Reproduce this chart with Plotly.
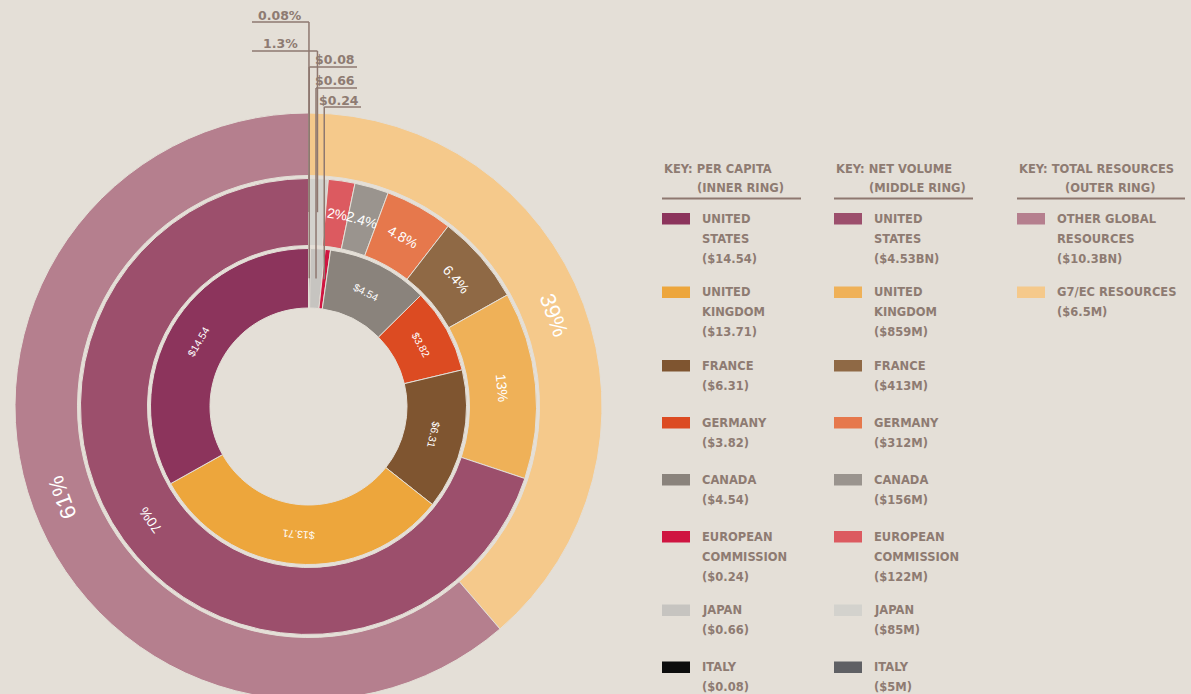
import math
import plotly.graph_objects as go

# ring order is clockwise from 12 o'clock
members = ['ITALY', 'JAPAN', 'EUROPEAN<br>COMMISSION', 'CANADA', 'GERMANY',
           'FRANCE', 'UNITED<br>KINGDOM', 'UNITED<br>STATES']
per_capita = [0.08, 0.66, 0.24, 4.54, 3.82, 6.31, 13.71, 14.54]
net_volume_m = [5, 85, 122, 156, 312, 413, 859, 4530]
net_volume_labels = ['$5M', '$85M', '$122M', '$156M', '$312M', '$413M', '$859M', '$4.53BN']
net_share_pct = ['0.08', '1.3', '2', '2.4', '4.8', '6.4', '13', '70']
resource_groups = ['G7/EC RESOURCES', 'OTHER GLOBAL<br>RESOURCES']
resources_bn = [6.5, 10.3]
resource_labels = ['$6.5M', '$10.3BN']
resource_share_pct = ['39', '61']

inner_colors = ['#0d0d0d', '#c6c4c0', '#cf1541', '#8a837c', '#dc4b22', '#7f5530', '#eda63c', '#8c345c']
middle_colors = ['#5f6064', '#d3d2cd', '#dc5a60', '#9a948e', '#e6784c', '#8f6945', '#efb158', '#9c4f6c']
outer_colors = ['#f5c98b', '#b57f8e']

BG = '#e4dfd7'
INK = '#8e7b72'
LINE = '#8e7870'
KEY_FONT = dict(family='DejaVu Sans', size=11.5, color=INK, weight='bold')
W, H = 1191, 712
CX, CY = 308.5, 406.5
INNER = (98.5, 158)
MIDDLE = (161, 228)
OUTER = (231, 293.5)


def px(x):
    return x / W


def py(y):
    return 1 - y / H


def ring(labels, values, colors, radii):
    r_in, r_out = radii
    return go.Pie(
        labels=labels, values=values, sort=False, direction='clockwise', rotation=0,
        hole=r_in / r_out, textinfo='none', hoverinfo='label+value', showlegend=False,
        marker=dict(colors=colors, line=dict(color=BG, width=1)),
        domain=dict(x=[px(CX - r_out), px(CX + r_out)], y=[py(CY + r_out), py(CY - r_out)]),
    )


def centroids(values):
    total, acc, out = sum(values), 0, []
    for v in values:
        out.append(360 * (acc + v / 2) / total)
        acc += v
    return out


def polar(angle, r):
    a = math.radians(angle)
    return CX + r * math.sin(a), CY - r * math.cos(a)


fig = go.Figure([
    ring(resource_groups, resources_bn, outer_colors, OUTER),
    ring(members, net_volume_m, middle_colors, MIDDLE),
    ring(members, per_capita, inner_colors, INNER),
])

annotations = []
shapes = []


def ring_labels(values, texts, radii, size, skip):
    r = sum(radii) / 2
    for i, (ang, t) in enumerate(zip(centroids(values), texts)):
        if i < skip:
            continue
        x, y = polar(ang, r)
        annotations.append(dict(
            x=px(x), y=py(y), xref='paper', yref='paper', text=t, showarrow=False,
            textangle=ang, xanchor='center', yanchor='middle',
            font=dict(family='Liberation Sans', size=size, color='white'),
        ))


ring_labels(per_capita, [f'${v:.2f}' for v in per_capita], INNER, 10.5, 3)
ring_labels(net_volume_m, [f'{p}%' for p in net_share_pct], MIDDLE, 14, 2)
ring_labels(resources_bn, [f'{p}%' for p in resource_share_pct], OUTER, 22, 0)

# call-outs for the slivers at 12 o'clock
mid_ang = centroids(net_volume_m)
in_ang = centroids(per_capita)
callouts = [
    (f'{net_share_pct[0]}%', mid_ang[0], MIDDLE, 15, 22, 'left', 280),
    (f'{net_share_pct[1]}%', mid_ang[1], MIDDLE, 43, 51, 'left', 280),
    (f'${per_capita[0]:.2f}', in_ang[0], INNER, 60, 67, 'right', 357),
    (f'${per_capita[1]:.2f}', in_ang[1], INNER, 80, 88, 'right', 357),
    (f'${per_capita[2]:.2f}', in_ang[2], INNER, 100, 107, 'right', 361),
]
for text, ang, radii, ty, uy, side, tx in callouts:
    lx, ly = polar(ang, sum(radii) / 2)
    if side == 'left':
        ux0, ux1 = 252, lx
        anchor = 'center'
    else:
        ux0, ux1 = lx, tx
        anchor = 'right'
    shapes.append(dict(type='line', xref='paper', yref='paper', x0=px(ux0), x1=px(ux1),
                       y0=py(uy), y1=py(uy), line=dict(color=LINE, width=1.5)))
    shapes.append(dict(type='line', xref='paper', yref='paper', x0=px(lx), x1=px(lx),
                       y0=py(uy), y1=py(ly), line=dict(color=LINE, width=1.5)))
    annotations.append(dict(x=px(tx), y=py(ty), xref='paper', yref='paper', text=text,
                            showarrow=False, xanchor=anchor, yanchor='middle',
                            font=dict(KEY_FONT, size=12.5)))

# keys
headers = [('KEY: PER CAPITA', '(INNER RING)', 33, 139),
           ('KEY: NET VOLUME', '(MIDDLE RING)', 33, 139),
           ('KEY: TOTAL RESOURCES', '(OUTER RING)', 46, 168)]
columns = [
    (662, list(zip(members, [f'(${v:.2f})' for v in per_capita], inner_colors))[::-1]),
    (834, list(zip(members, [f'({v})' for v in net_volume_labels], middle_colors))[::-1]),
    (1017, list(zip(resource_groups, [f'({v})' for v in resource_labels], outer_colors))[::-1]),
]


def key_text(x, y, text):
    annotations.append(dict(x=px(x), y=py(y), xref='paper', yref='paper', text=text,
                            showarrow=False, xanchor='left', yanchor='middle', font=KEY_FONT))


for (line1, line2, off, uw), (cx, entries) in zip(headers, columns):
    key_text(cx, 169, line1)
    key_text(cx + off, 188, line2)
    shapes.append(dict(type='line', xref='paper', yref='paper', x0=px(cx), x1=px(cx + uw),
                       y0=py(198.5), y1=py(198.5), line=dict(color=LINE, width=2)))
    y = 218.5
    for name, value, color in entries:
        shapes.append(dict(type='rect', xref='paper', yref='paper', x0=px(cx), x1=px(cx + 28),
                           y0=py(y + 6), y1=py(y - 5.5), fillcolor=color, line=dict(width=0)))
        lines = name.split('<br>') + [value]
        for k, t in enumerate(lines):
            key_text(cx + 38, y + 20 * k, t)
        y += 57 if len(lines) == 2 else 73.5

fig.update_layout(
    width=W, height=H,
    margin=dict(t=0, l=0, r=0, b=0),
    paper_bgcolor=BG,
    plot_bgcolor=BG,
    annotations=annotations,
    shapes=shapes,
)

fig.write_html('out.html', config={'displayModeBar': False},
               post_script="document.body.style.margin='0';document.body.style.overflow='hidden';")
